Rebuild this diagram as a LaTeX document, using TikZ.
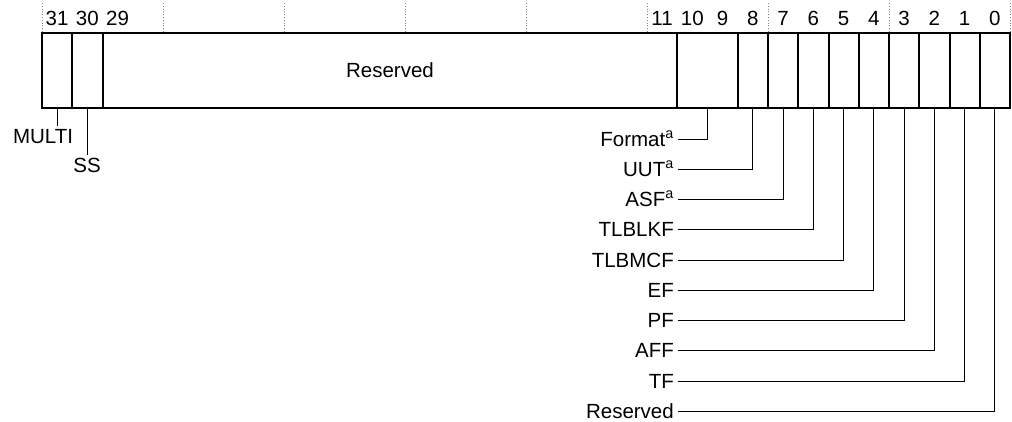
\documentclass[tikz,border=0pt]{standalone}
\usepackage{fontspec}
\setmainfont{Liberation Sans}
\usetikzlibrary{calc}

\tikzset{
  campo/.style={line width=2pt},
  guia/.style={line width=1pt},
  etiq/.style={font=\fontsize{20.5}{24}\selectfont, inner sep=2pt, inner xsep=4pt, text height=15pt, text depth=1pt},
}

\begin{document}
\begin{tikzpicture}[x=1pt, y=-1pt]
  \useasboundingbox (0,0) rectangle (1012,421);
  \def\bw{30.25}
  % marcas punteadas cada cuatro bits
  \foreach \k in {0,...,8}
    \draw[gray, dotted, line width=0.8pt] (42+\k*121,3) -- (42+\k*121,33);
  % numeros de bit
  \foreach \b in {31,30,29,11,10,9,8,7,6,5,4,3,2,1,0}
    \node[etiq] (n\b) at ({42+(31.5-\b)*\bw},18) {\b};
  % registro y separaciones
  \draw[campo] (42,33) rectangle (1010,108);
  \foreach \b in {31,30,11,9,8,7,6,5,4,3,2,1}
    \draw[campo] ({42+(32-\b)*\bw},33) -- ({42+(32-\b)*\bw},108);
  \node[etiq] (res) at (390,70) {Reserved};
  % MULTI y SS
  \coordinate (b31) at ({42+0.5*\bw},108);
  \coordinate (b30) at ({42+1.5*\bw},108);
  \node[etiq, anchor=north] (multi) at (43,126) {MULTI};
  \node[etiq, anchor=north] (ss) at (87,155) {SS};
  \draw[guia] (b31) -- (b31 |- multi.north);
  \draw[guia] (b30) -- (b30 |- ss.north);
  % campos de la derecha
  \foreach \nom/\b [count=\i from 0] in {{Format\textsuperscript{a}}/9.5, {UUT\textsuperscript{a}}/8,
      {ASF\textsuperscript{a}}/7, TLBLKF/6, TLBMCF/5, EF/4, PF/3, AFF/2, TF/1, Reserved/0}{
    \coordinate (c\i) at ({42+(31.5-\b)*\bw},108);
    \node[etiq, anchor=east] (f\i) at (678,{139+\i*30.25}) {\nom};
    \draw[guia] (c\i) |- (f\i.east);
  }
\end{tikzpicture}
\end{document}
